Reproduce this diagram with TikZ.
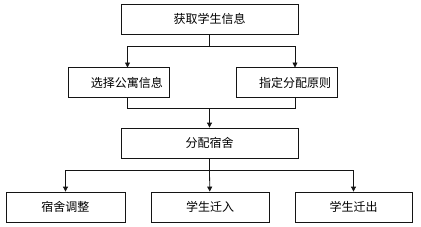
\documentclass[tikz,border=0pt]{standalone}
\usepackage{fontspec}
\setmainfont{Noto Sans CJK SC}
\usepackage{tikz}
\usetikzlibrary{arrows.meta, positioning, calc}
\definecolor{mydark}{RGB}{20,20,20}
\tikzset{
  block/.style={rectangle, draw=mydark, fill=white, minimum height=30pt, inner sep=0pt, font=\fontsize{12}{14}\selectfont, line width=0.8pt},
  arrow/.style={-{Triangle[length=5pt, width=5pt]}, line width=0.8pt, color=mydark},
  line/.style={line width=0.8pt, color=mydark}
}
\begin{document}
\begin{tikzpicture}[x=1pt, y=-1pt]
  \useasboundingbox (0,0) rectangle (421,226);

  % Boxes
  \node[block, minimum width=177pt] (info) at (209.5,19) {获取学生信息};
  \node[block, minimum width=101pt] (apt) at (118.5,82.5) {\hspace*{17pt}选择公寓信息};
  \node[block, minimum width=101pt] (rule) at (286.5,82.5) {\hspace*{17pt}指定分配原则};
  \node[block, minimum width=177pt] (assign) at (209.5,143) {分配宿舍};
  \node[block, minimum width=119pt] (adjust) at (65.5,207) {宿舍调整};
  \node[block, minimum width=118pt] (movein) at (210,207) {学生迁入};
  \node[block, minimum width=117pt] (moveout) at (353.5,207) {学生迁出};

  % Junctions
  \coordinate (j1) at (209.5,46);
  \coordinate (j2) at (209.5,108);
  \coordinate (j3) at (209.5,170);
  \coordinate (aptin) at (127.5,67.5);
  \coordinate (rulein) at (295,67.5);

  % First split
  \draw[line] (info) -- (j1);
  \draw[arrow] (j1) -| (aptin);
  \draw[arrow] (j1) -| (rulein);

  % Merge
  \draw[line] (aptin |- apt.south) |- (j2);
  \draw[line] (rulein |- rule.south) |- (j2);
  \draw[arrow] (j2) -- (assign);

  % Second split
  \draw[line] (assign) -- (j3);
  \draw[arrow] (j3) -| (adjust);
  \draw[arrow] (j3) -- (movein);
  \draw[arrow] (j3) -| (moveout);
\end{tikzpicture}
\end{document}
